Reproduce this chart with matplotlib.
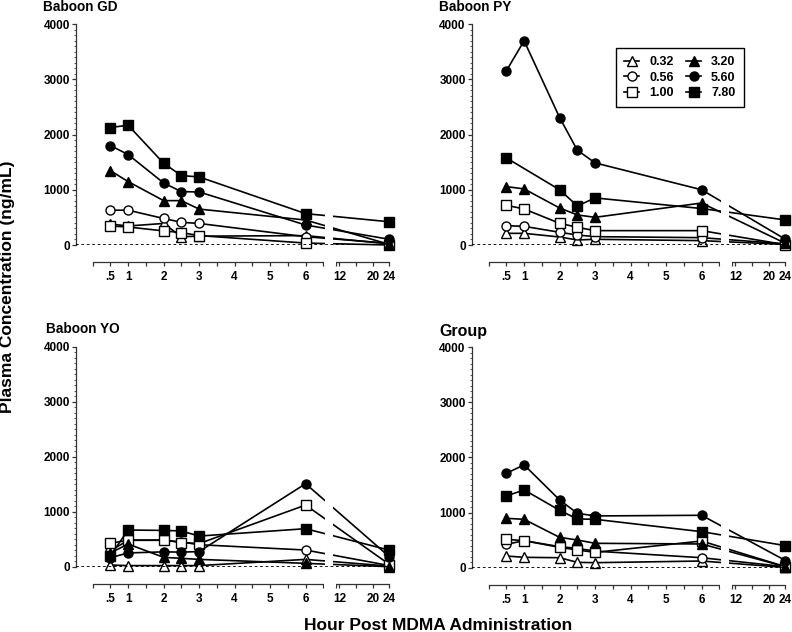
import numpy as np
import matplotlib
matplotlib.use("Agg")
import matplotlib.pyplot as plt
import matplotlib.transforms as mtransforms
from matplotlib.patches import Rectangle

plt.rcParams['font.family'] = ['Liberation Sans', 'DejaVu Sans']
plt.rcParams['font.weight'] = 'bold'

# hours post dose
times = [0.5, 1, 2, 2.5, 3, 6, 24]
doses = ['0.32', '0.56', '1.00', '3.20', '5.60', '7.80']
markers = ['^', 'o', 's', '^', 'o', 's']
faces = ['white', 'white', 'white', 'black', 'black', 'black']

nan = np.nan
gd_032 = [380, 344, 390, 150, 160, 170, 20]
gd_056 = [630, 630, 480, 411, 390, 150, 30]
gd_100 = [344, 326, 255, 225, 170, 35, 0]
gd_320 = [1345, 1148, 803, 803, 650, 452, 10]
gd_560 = [1800, 1637, 1123, 966, 960, 362, 103]
gd_780 = [2126, 2168, 1480, 1256, 1232, 568, 420]

py_032 = [211, 211, 145, 91, 103, 79, 10]
py_056 = [350, 338, 230, 181, 151, 133, 20]
py_100 = [719, 652, 393, 320, 260, 260, 5]
py_320 = [1057, 1015, 670, 544, 501, 760, 30]
py_560 = [3153, 3696, 2307, 1715, 1486, 1000, 103]
py_780 = [1576, nan, 1000, 707, 852, 660, 453]

yo_032 = [30, 20, 20, 20, 20, 133, 10]
yo_056 = [290, 480, 480, 450, 400, 303, 20]
yo_100 = [424, 485, 485, 440, 420, 1121, 40]
yo_320 = [250, 412, 170, 152, 133, 61, 0]
yo_560 = [164, 250, 270, 265, 275, 1509, 180]
yo_780 = [200, 667, 660, 650, 557, 691, 300]

grp_032 = [212, 188, 181, 97, 91, 121, 5]
grp_056 = [424, 490, 381, 351, 300, 181, 18]
grp_100 = [514, 490, 369, 321, 278, 484, 18]
grp_320 = [895, 877, 550, 502, 442, 430, 18]
grp_560 = [1712, 1863, 1228, 986, 938, 950, 130]
grp_780 = [1300, 1410, 1040, 883, 877, 653, 400]

panels = [
    ('Baboon GD', [gd_032, gd_056, gd_100, gd_320, gd_560, gd_780]),
    ('Baboon PY', [py_032, py_056, py_100, py_320, py_560, py_780]),
    ('Baboon YO', [yo_032, yo_056, yo_100, yo_320, yo_560, yo_780]),
    ('Group', [grp_032, grp_056, grp_100, grp_320, grp_560, grp_780]),
]

# broken time axis: 0-6.5 h linear, 11.2-24 h compressed
B1, B2 = 6.5, 11.2
GAPK = 0.0762
K2 = 0.1175
X2 = B1 + (B2 - B1) * GAPK


def fwd(h):
    h = np.asarray(h, float)
    return np.where(h <= B1, h,
                    np.where(h < B2, B1 + (h - B1) * GAPK, X2 + (h - B2) * K2))


def inv(x):
    x = np.asarray(x, float)
    return np.where(x <= B1, x,
                    np.where(x < X2, B1 + (x - B1) / GAPK, B2 + (x - X2) / K2))


fig = plt.figure(figsize=(7.92, 6.32), dpi=100)

W = 792.0
H = 632.0
lefts = [76, 472, 76, 472]
zeros = [245, 245, 566.7, 567.7]
tops = [24, 24, 346.7, 347]
axw = 314.7
title_pos = [(43, 11, 9.8), (439, 11, 9.8), (46, 333, 9.8), (439, 336.5, 11.5)]

axes = []
for i, (name, series) in enumerate(panels):
    axh = zeros[i] - tops[i]
    ax = fig.add_axes([lefts[i] / W, 1 - zeros[i] / H, axw / W, axh / H])
    ax.set_xscale('function', functions=(fwd, inv))
    ax.set_xlim(-0.468, 24.3)
    ax.set_ylim(0, 4000)

    for vals, mk, fc, lab in zip(series, markers, faces, doses):
        t = np.array(times)
        v = np.array(vals, float)
        ok = ~np.isnan(v)
        ax.plot(t[ok], v[ok], color='black', lw=1.2, marker=mk, ms=6.5,
                mfc=fc, mec='black', mew=1.0, clip_on=False, label=lab)

    # gap in the lines across the axis break
    ax.axvspan(7.1, 10.1, color='white', zorder=2.5, lw=0)
    ax.axhline(0, color='black', lw=1.3, ls=(0, (1.5, 1.5)), zorder=3)

    for s in ['top', 'right']:
        ax.spines[s].set_visible(False)
    ax.spines['left'].set_bounds(0, 4000)
    ax.spines['bottom'].set_position(('outward', 12.2))
    ax.spines['bottom'].set_bounds(0, 24)
    for s in ['left', 'bottom']:
        ax.spines[s].set_linewidth(0.9)
        ax.spines[s].set_color('#333333')

    # cut the bottom spine at the break
    tr = mtransforms.blended_transform_factory(ax.transData, ax.transAxes)
    sy = -17.0 / axh
    ax.add_patch(Rectangle((6.56, sy - 3.0 / axh), 11.14 - 6.56, 6.0 / axh, transform=tr,
                           facecolor='white', edgecolor='none', zorder=10, clip_on=False))

    ax.set_xticks([0.5, 1, 2, 3, 4, 5, 6, 12, 20, 24],
                  ['.5', '1', '2', '3', '4', '5', '6', '12', '20', '24'])
    ax.set_xticks([0, 1.5, 2.5, 3.5, 4.5, 5.5, 6.5, 11.2, 16], minor=True)
    ax.set_yticks([0, 1000, 2000, 3000, 4000])
    ax.set_yticks(np.arange(0, 4001, 100), minor=True)
    ax.tick_params(axis='x', which='both', length=3, width=0.9, color='#333333',
                   labelsize=8.5, pad=3.5)
    ax.tick_params(axis='y', which='major', length=3, width=0.9, color='#333333',
                   labelsize=8.5, pad=1.5)
    ax.tick_params(axis='y', which='minor', length=1.6, width=0.7, color='#555555')
    for lbl in ax.get_xticklabels() + ax.get_yticklabels():
        lbl.set_fontweight('bold')

    tx, ty, ts = title_pos[i]
    fig.text(tx / W, 1 - ty / H, name, fontsize=ts, fontweight='bold', va='baseline')
    axes.append(ax)

leg = axes[1].legend(ncol=2, loc='upper left', bbox_to_anchor=(616 / W, 1 - 48 / H),
                     bbox_transform=fig.transFigure, borderaxespad=0,
                     frameon=True, fancybox=False, framealpha=1, edgecolor='black',
                     prop={'size': 9, 'weight': 'bold'}, handlelength=1.2,
                     handletextpad=0.8, columnspacing=1.0, labelspacing=0.28,
                     borderpad=0.65, numpoints=1)
leg.get_frame().set_linewidth(1.0)

fig.text(438 / W, 1 - 630 / H, 'Hour Post MDMA Administration', fontsize=12.5,
         fontweight='bold', ha='center', va='baseline')
fig.text(8 / W, 1 - 287 / H, 'Plasma Concentration (ng/mL)', fontsize=12.5,
         fontweight='bold', ha='center', va='center', rotation=90)

fig.savefig('out.png', dpi=100)
